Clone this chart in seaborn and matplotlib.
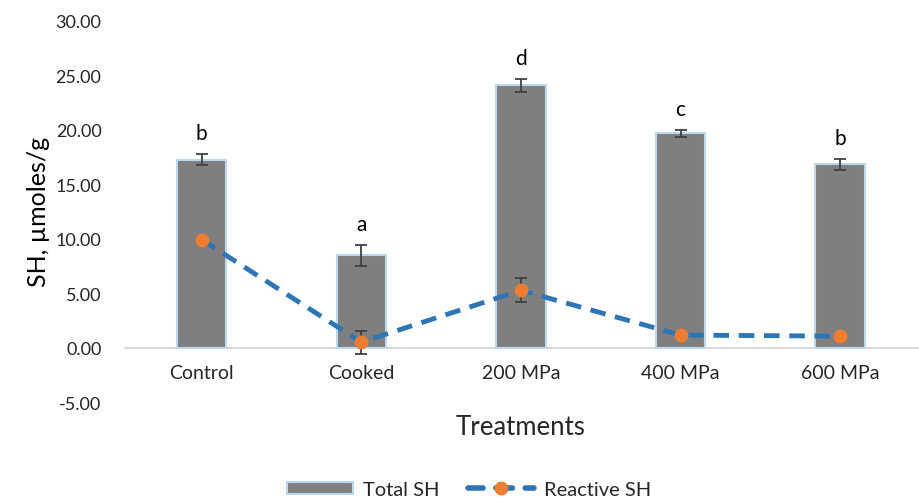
import matplotlib
matplotlib.use("Agg")
import matplotlib.pyplot as plt
import seaborn as sns
import pandas as pd
from matplotlib.lines import Line2D
from matplotlib.patches import Patch

treatments = ["Control", "Cooked", "200 MPa", "400 MPa", "600 MPa"]
total_sh = [17.25, 8.45, 24.05, 19.65, 16.80]
total_sh_err = [0.50, 0.95, 0.60, 0.30, 0.50]
reactive_sh = [9.90, 0.50, 5.25, 1.15, 1.05]
reactive_sh_err = [0.00, 1.05, 1.10, 0.00, 0.00]
letters = ["b", "a", "d", "c", "b"]

sns.set_theme(style="white")
plt.rcParams["font.family"] = ["Lato", "DejaVu Sans"]

df = pd.DataFrame({"Treatment": treatments, "Total SH": total_sh})

fig = plt.figure(figsize=(9.2, 5.02), dpi=100)
ax = fig.add_axes([0.136, 0.197, 0.864, 0.76])

bar_color = "#7f7f7f"
edge_color = "#bdd7ee"
line_color = "#2e75b6"
marker_color = "#ed7d31"
err_color = "#404040"
text_color = "#262626"

sns.barplot(data=df, x="Treatment", y="Total SH", color=bar_color,
            width=0.31, edgecolor=edge_color, linewidth=1.5,
            saturation=1, errorbar=None, ax=ax, zorder=2)

xs = list(range(len(treatments)))
ax.errorbar(xs, total_sh, yerr=total_sh_err, fmt="none", ecolor=err_color,
            elinewidth=1.3, capsize=4, capthick=1.3, zorder=3)

ax.plot(xs, reactive_sh, color=line_color, linestyle=(0, (3.2, 2.0)),
        linewidth=3.5, zorder=4)
ax.errorbar(xs, reactive_sh, yerr=reactive_sh_err, fmt="none",
            ecolor=err_color, elinewidth=1.3, capsize=4, capthick=1.3, zorder=5)
ax.plot(xs, reactive_sh, linestyle="none", marker="o", markersize=9,
        color=marker_color, zorder=6)

for x, v, e, lab in zip(xs, total_sh, total_sh_err, letters):
    ax.annotate(lab, (x, v + e), xytext=(0, 8), textcoords="offset points",
                ha="center", va="bottom", fontsize=15, color="#000000")

ax.set_ylim(-5, 30)
ax.set_xlim(-0.48, 4.5)
ax.set_yticks([-5, 0, 5, 10, 15, 20, 25, 30])
ax.set_yticklabels([f"{t:.2f}" for t in [-5, 0, 5, 10, 15, 20, 25, 30]])
ax.tick_params(axis="both", length=0, colors=text_color)
ax.tick_params(axis="y", pad=17, labelsize=13)
ax.tick_params(axis="x", pad=12, labelsize=14)
for name, s in ax.spines.items():
    s.set_visible(False)
# category axis crosses the value axis at zero
ax.spines["bottom"].set_visible(True)
ax.spines["bottom"].set_position(("data", 0))
ax.spines["bottom"].set_color("#d0d0d0")
ax.spines["bottom"].set_linewidth(1.2)
ax.spines["bottom"].set_zorder(1)

ax.set_xlabel("Treatments", fontsize=18.5, color=text_color)
ax.xaxis.set_label_coords(0.498, -0.03)
ax.set_ylabel("SH, \u00b5moles/g", fontsize=18, color="#000000", labelpad=4)

handles = [
    Patch(facecolor=bar_color, edgecolor=edge_color, linewidth=1.5),
    Line2D([0], [0], color=line_color, linestyle=(0.3, (3.0, 2.3)), linewidth=4,
           solid_capstyle="round", dash_capstyle="round",
           marker="o", markersize=9, markerfacecolor=marker_color,
           markeredgecolor=marker_color),
]
fig.legend(handles, ["Total SH", "Reactive SH"], loc="lower center",
           bbox_to_anchor=(0.51, -0.03), ncol=2, frameon=False, fontsize=14.5,
           handlelength=3.3, columnspacing=1.4, handleheight=0.55,
           handletextpad=0.5, labelcolor=text_color)

fig.savefig("out.png", dpi=100)
